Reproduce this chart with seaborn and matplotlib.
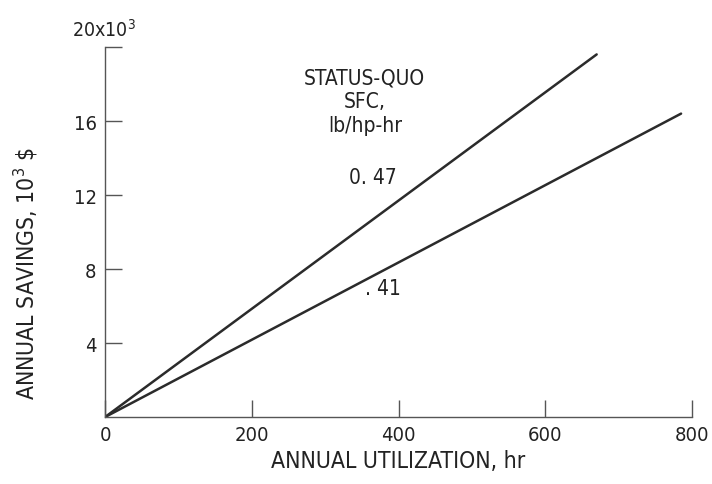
import pandas as pd
import seaborn as sns
import matplotlib.pyplot as plt

# values (savings in thousands of dollars)
sfc_labels = ["0.47", ".41"]
hours_047 = [0, 670]
savings_047 = [0, 19.6]
hours_041 = [0, 785]
savings_041 = [0, 16.4]
xticks = [0, 200, 400, 600, 800]
yticks = [4, 8, 12, 16, 20]
ytick_labels = ["4", "8", "12", "16", ""]

df = pd.DataFrame({
    "hours": hours_047 + hours_041,
    "savings": savings_047 + savings_041,
    "sfc": [sfc_labels[0]] * len(hours_047) + [sfc_labels[1]] * len(hours_041),
})

sns.set_style("ticks")
plt.rcParams["font.family"] = ["DejaVu Sans"]
plt.rcParams["font.stretch"] = "condensed"

fig = plt.figure(figsize=(7.12, 4.85), dpi=100)
ax = fig.add_axes([0.1475, 0.138, 0.8245, 0.763])
sns.lineplot(data=df, x="hours", y="savings", hue="sfc",
             palette=["#2b2b2b", "#2b2b2b"], linewidth=1.8, legend=False, ax=ax)

ax.set_xlim(0, 800)
ax.set_ylim(0, 20)
ax.set_xticks(xticks)
ax.set_yticks(yticks)
ax.set_yticklabels(ytick_labels)
ax.tick_params(direction="in", length=12, width=1, color="#555555",
               labelsize=14.5, labelcolor="#222222", pad=6)
for s in ["top", "right"]:
    ax.spines[s].set_visible(False)
for s in ["left", "bottom"]:
    ax.spines[s].set_color("#555555")
    ax.spines[s].set_linewidth(1)

ax.set_xlabel("ANNUAL UTILIZATION, hr", fontsize=16.5, color="#222222", labelpad=3)
ax.set_ylabel(r"ANNUAL SAVINGS, 10$^3$ \$", fontsize=16.5, color="#222222")
ax.yaxis.set_label_coords(-0.11, 0.39)

ax.text(-2, 20.4, r"20x10$^3$", fontsize=14, ha="center", va="bottom",
        color="#222222", clip_on=False)
ax.text(354, 18.9, "STATUS-QUO\nSFC,\nlb/hp-hr", fontsize=15, ha="center",
        va="top", linespacing=1.25, color="#222222")
ax.text(365, 13.0, "0. 47", fontsize=15, ha="center", va="center", color="#222222")
ax.text(379, 7.0, ". 41", fontsize=15, ha="center", va="center", color="#222222")

fig.savefig("out.png", dpi=100)
